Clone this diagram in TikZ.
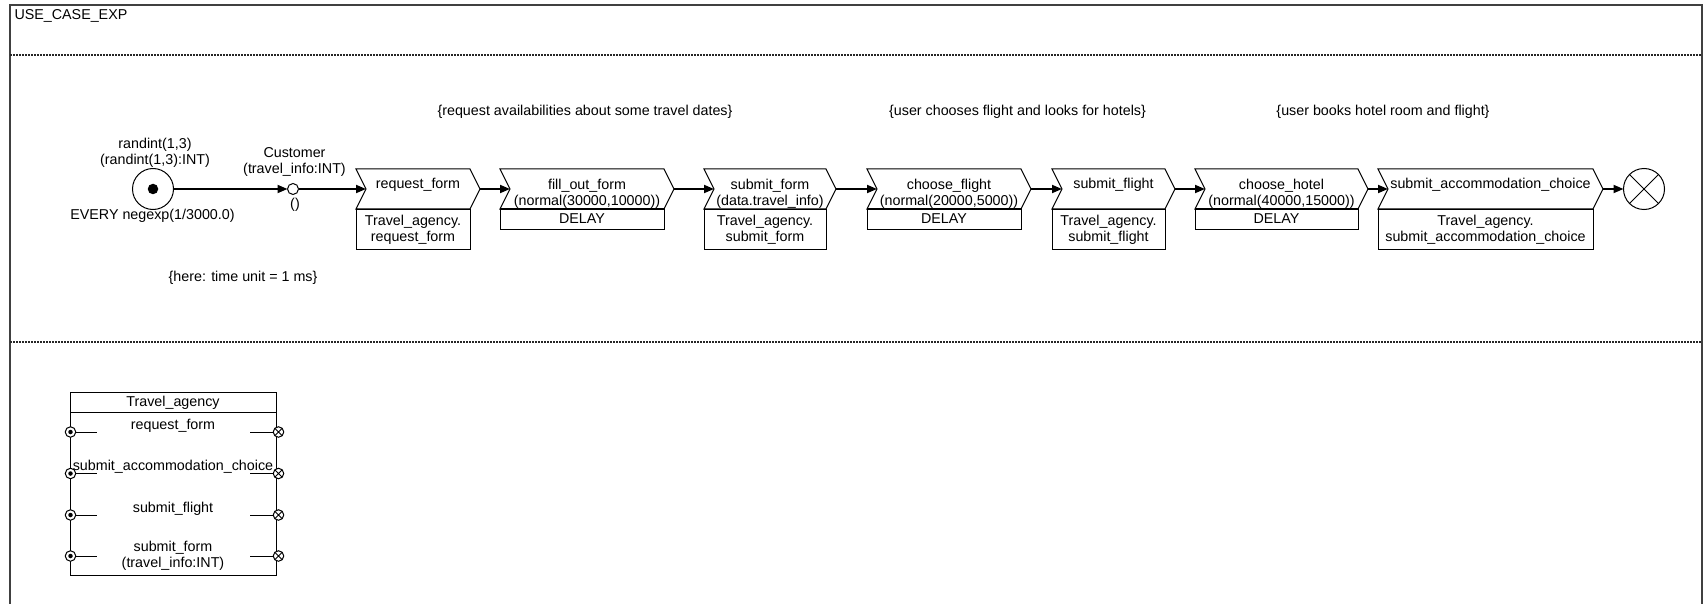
\documentclass[tikz,border=0pt]{standalone}
\usepackage{fontspec}
\setmainfont{Liberation Sans}
\usetikzlibrary{arrows.meta}

% uniform line height for text rows inside shapes
\newcommand\lnstrut{\rule[-3.5pt]{0pt}{15pt}}

% process step: chevron with notch (in) and tip (out); #1 name, #2 left x, #3 right x, #4 text
\newcommand\chevron[4]{%
  \draw[shp] (#2,169) -- (#3,169) -- (#3+10,189) -- (#3,209) -- (#2,209) -- (#2+10,189) -- cycle;
  \coordinate (#1-in) at (#2+10,189);
  \coordinate (#1-out) at (#3+10,189);
  \node[lbl, anchor=north] (#1) at ({(#2+10+#3)/2},177.5) {#4};
}
% box under a step; #1 name, #2 left x, #3 right x, #4 height, #5 text
\newcommand\infobox[5]{%
  \node[shp, lbl, anchor=north west, minimum width={#3-#2}, minimum height=#4] (#1) at (#2,209) {#5};
}

\begin{document}
\begin{tikzpicture}[x=1pt, y=-1pt,
  every node/.style={font=\fontsize{14.3}{16}\selectfont, inner sep=0pt, outer sep=0pt},
  lbl/.style={align=center},
  shp/.style={draw=black, line width=1pt},
  flow/.style={draw=black, line width=1.8pt, -{Triangle[length=10pt,width=8pt]}},
  outerframe/.style={draw=black!75, line width=1.4pt},
  lanesep/.style={draw=black!85, line width=1.8pt, dash pattern=on 1.5pt off 1.5pt},
  portin/.style={circle, shp, fill=white, minimum size=10.5pt},
  portout/.style={circle, shp, fill=white, minimum size=10.5pt},
  portdot/.style={circle, fill=black, minimum size=4.5pt}
]
\useasboundingbox (0,0) rectangle (1707,604);

% outer frame and lanes
\draw[outerframe] (10,610) -- (10,5) -- (1702,5) -- (1702,610);
\draw[lanesep] (10,55) -- (1702,55);
\draw[lanesep] (10,342) -- (1702,342);
\node[anchor=base west] (title) at (14.5,19.5) {USE\_CASE\_EXP};

% comments
\node[anchor=base] (c1) at (585,115.5) {\{request availabilities about some travel dates\}};
\node[anchor=base] (c2) at (1017.5,115.5) {\{user chooses flight and looks for hotels\}};
\node[anchor=base] (c3) at (1383,115.5) {\{user books hotel room and flight\}};
\node[anchor=base] (c4) at (243,281) {\{here: time unit = 1 ms\}};

% source
\node[circle, shp, minimum size=41pt] (start) at (153,189) {};
\node[circle, fill=black, minimum size=10.5pt] (startdot) at (start.center) {};
\node[lbl, anchor=north] (startlbl) at (155,137) {\lnstrut randint(1,3)\\\lnstrut (randint(1,3):INT)};
\node[anchor=base] (every) at (152.5,219) {EVERY negexp(1/3000.0)};

% customer
\node[circle, shp, minimum size=11pt] (cust) at (293,189) {};
\node[lbl, anchor=north] (custlbl) at (294.5,146.5) {\lnstrut Customer\\\lnstrut (travel\_info:INT)};
\node[anchor=base] (custpar) at (295,208) {()};

% steps
\chevron{rf}{356}{470}{\lnstrut request\_form}
\infobox{rfb}{356}{470}{40}{\lnstrut Travel\_agency.\\\lnstrut request\_form}

\chevron{fo}{500}{664}{\lnstrut fill\_out\_form\\\lnstrut (normal(30000,10000))}
\infobox{fob}{500}{664}{20}{\lnstrut DELAY}

\chevron{sf}{704}{826}{\lnstrut submit\_form\\\lnstrut (data.travel\_info)}
\infobox{sfb}{704}{826}{40}{\lnstrut Travel\_agency.\\\lnstrut submit\_form}

\chevron{cf}{867}{1021}{\lnstrut choose\_flight\\\lnstrut (normal(20000,5000))}
\infobox{cfb}{867}{1021}{20}{\lnstrut DELAY}

\chevron{sfl}{1052}{1165}{\lnstrut submit\_flight}
\infobox{sflb}{1052}{1165}{40}{\lnstrut Travel\_agency.\\\lnstrut submit\_flight}

\chevron{ch}{1195}{1358}{\lnstrut choose\_hotel\\\lnstrut (normal(40000,15000))}
\infobox{chb}{1195}{1358}{20}{\lnstrut DELAY}

\chevron{sac}{1378}{1593}{\lnstrut submit\_accommodation\_choice}
\infobox{sacb}{1378}{1593}{40}{\lnstrut Travel\_agency.\\\lnstrut submit\_accommodation\_choice}

% sink
\node[circle, shp, minimum size=41pt] (stop) at (1644,189) {};
\draw[shp] (stop.north west) -- (stop.south east) (stop.north east) -- (stop.south west);

% flow
\draw[flow] (start) -- (cust);
\draw[flow] (cust) -- (rf-in);
\draw[flow] (rf-out) -- (fo-in);
\draw[flow] (fo-out) -- (sf-in);
\draw[flow] (sf-out) -- (cf-in);
\draw[flow] (cf-out) -- (sfl-in);
\draw[flow] (sfl-out) -- (ch-in);
\draw[flow] (ch-out) -- (sac-in);
\draw[flow] (sac-out) -- (stop);

% component Travel_agency
\node[shp, anchor=north west, minimum width=206pt, minimum height=183pt] (ta) at (70,392) {};
\draw[shp] ([yshift=-20.5pt]ta.north west) -- ([yshift=-20.5pt]ta.north east);
\node[anchor=base] (tahead) at (173,406.5) {Travel\_agency};
\foreach \i/\yy in {1/432, 2/473.5, 3/515, 4/556} {
  \coordinate (pinend\i) at (97,\yy);
  \coordinate (poutend\i) at (250,\yy);
  \node[portin] (pin\i) at (70.5,\yy) {};
  \node[portdot] (pdot\i) at (pin\i.center) {};
  \draw[shp] (pin\i) -- (pinend\i);
  \node[portout] (pout\i) at (278.5,\yy) {};
  \draw[shp] (pout\i.north west) -- (pout\i.south east) (pout\i.north east) -- (pout\i.south west);
  \draw[shp] (poutend\i) -- (pout\i);
}
\node[anchor=base] (op1) at (173,429) {request\_form};
\node[anchor=base] (op2) at (173,470.5) {submit\_accommodation\_choice};
\node[anchor=base] (op3) at (173,512) {submit\_flight};
\node[lbl, anchor=north] (op4) at (173,540) {\lnstrut submit\_form\\\lnstrut (travel\_info:INT)};
\end{tikzpicture}
\end{document}
